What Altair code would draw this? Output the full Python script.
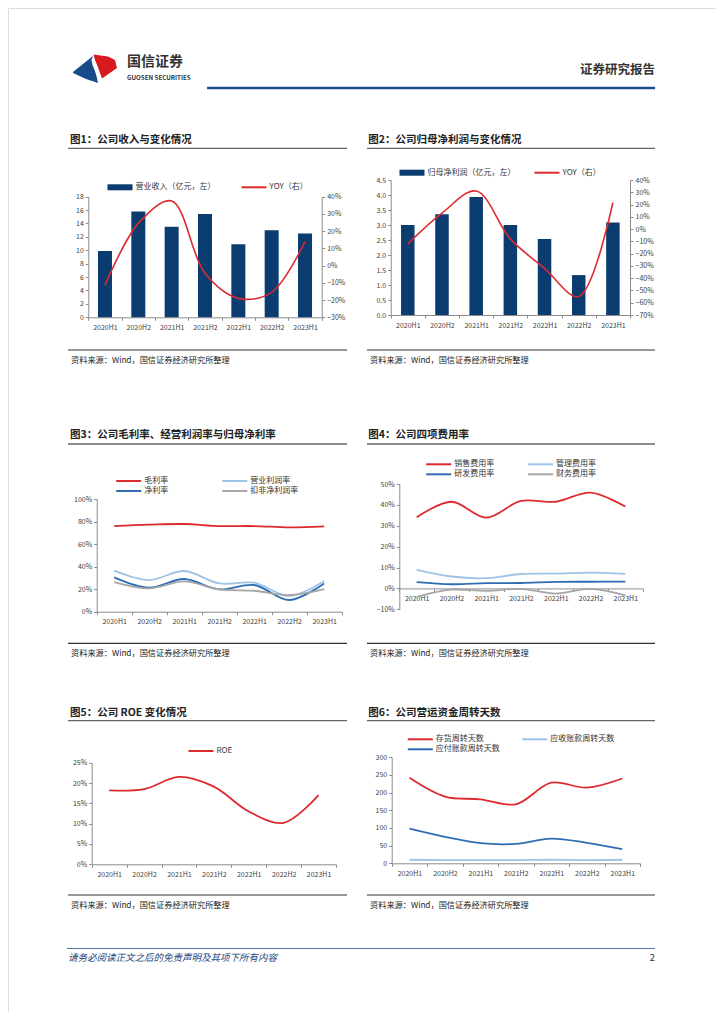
import altair as alt
import pandas as pd

FONT = "Noto Sans CJK SC"
NAVY = "#0b3c6f"
RED = "#dc2a2f"
LBLUE = "#9dc3e6"
BLUE = "#2f6db3"
GRAY = "#a6a6a6"
AXC = "#8c8c8c"
LABC = "#404040"

# ---------------- data ----------------
periods = ["2020H1", "2020H2", "2021H1", "2021H2", "2022H1", "2022H2", "2023H1"]

revenue = [9.9, 15.8, 13.5, 15.4, 10.9, 13.0, 12.5]
revenue_yoy = [-0.113, 0.245, 0.375, -0.045, -0.19, -0.155, 0.14]

net_profit = [3.0, 3.36, 3.93, 3.0, 2.53, 1.33, 3.08]
net_profit_yoy = [-0.12, 0.13, 0.31, -0.08, -0.32, -0.55, 0.217]

margin_names = ["毛利率", "营业利润率", "净利率", "扣非净利润率"]
gross_margin = [0.76, 0.772, 0.778, 0.76, 0.76, 0.748, 0.757]
op_margin = [0.364, 0.281, 0.361, 0.251, 0.257, 0.139, 0.272]
net_margin = [0.305, 0.213, 0.29, 0.198, 0.237, 0.104, 0.251]
deducted_margin = [0.263, 0.207, 0.269, 0.198, 0.186, 0.148, 0.201]

expense_names = ["销售费用率", "管理费用率", "研发费用率", "财务费用率"]
selling_rate = [0.341, 0.415, 0.339, 0.419, 0.415, 0.459, 0.392]
admin_rate = [0.089, 0.057, 0.049, 0.069, 0.071, 0.076, 0.070]
rd_rate = [0.030, 0.020, 0.025, 0.026, 0.031, 0.032, 0.033]
fin_rate = [-0.040, -0.006, -0.012, -0.002, -0.025, -0.002, -0.033]

roe = [0.182, 0.185, 0.215, 0.191, 0.130, 0.102, 0.170]

days_names = ["存货周转天数", "应收账款周转天数", "应付账款周转天数"]
inv_days = [242, 189, 181, 167, 228, 214, 240]
ar_days = [10, 9, 9, 9, 10, 9, 10]
ap_days = [98, 75, 57, 55, 70, 58, 40]

SOURCE = "资料来源：Wind，国信证券经济研究所整理"

one = pd.DataFrame({"k": [0]})

LINE_SYM = "M-5,0L5,0"
BAR_SYM = "M-5,-1.2L5,-1.2L5,1.2L-5,1.2Z"

# whole page drawn as one view; page coords -> view coords
VW, VH = 708, 1004


def px(X):
    return X - 8


def py(Y):
    return Y - 8


# ---------------- helpers ----------------
def text_at(X, Y, s, size, align="left", **kw):
    return alt.Chart(one).mark_text(
        text=s, font=FONT, fontSize=size, align=align, baseline="middle", **kw
    ).encode(x=alt.value(px(X)), y=alt.value(py(Y)))


def hline(X0, X1, Y, color, width):
    return alt.Chart(one).mark_rule(color=color, strokeWidth=width).encode(
        x=alt.value(px(X0)), x2=alt.value(px(X1)), y=alt.value(py(Y))
    )


def frame(title, tx, ty, ux0, ux1, uy, sline, stext):
    return [
        text_at(tx, ty, title, 10.5, fontWeight="bold", color="#222222"),
        hline(ux0, ux1, uy, "#666666", 1.3),
        hline(ux0, ux1, sline, "#333333", 1.2),
        text_at(ux0 + 3, stext, SOURCE, 8.2, color="#222222"),
    ]


def xenc(L, Wd, axis_y=None):
    if axis_y is None:
        ax = None
    else:
        ax = alt.Axis(title=None, labelAngle=0, tickBand="extent", tickSize=3, tickColor=AXC,
                      domainColor=AXC, labelFont=FONT, labelFontSize=7, labelColor=LABC,
                      labelPadding=3, grid=False, orient="bottom", offset=py(axis_y) - VH)
    return alt.X("period:N", sort=periods,
                 scale=alt.Scale(domain=periods, range=[px(L), px(L + Wd)],
                                 paddingInner=0, paddingOuter=0),
                 axis=ax)


def yenc(field, L, T, Wd, Hd, domain, values, fmt=None, orient="left"):
    off = -px(L) if orient == "left" else px(L + Wd) - VW
    d = dict(title=None, values=values, tickSize=3, tickColor=AXC, domainColor=AXC,
             labelFont=FONT, labelFontSize=7, labelColor=LABC, labelPadding=2,
             orient=orient, grid=False, offset=off)
    if fmt:
        d["format"] = fmt
    return alt.Y(field, scale=alt.Scale(domain=domain, range=[py(T + Hd), py(T)], nice=False, zero=False),
                 axis=alt.Axis(**d))


def leg(X, Y, sym, cols=1, colpad=10, sw=2.0):
    return alt.Legend(title=None, orient="none", legendX=px(X), legendY=py(Y) - 4, columns=cols,
                      columnPadding=colpad, rowPadding=2, symbolType=sym, symbolSize=25,
                      symbolStrokeWidth=sw, symbolOffset=8, labelOffset=11.5,
                      labelFont=FONT, labelFontSize=8, labelColor="#333333", padding=0)


def pct_vals(lo, hi):
    return [round(v / 10, 2) for v in range(lo, hi + 1)]


layers = []

# ---------------- header ----------------
LOGO_BLUE = ("M-1,0.159L-0.091,-0.568L-0.159,-0.386L-0.114,-0.159L0,0.114L0.091,0.432"
             "L0.136,0.659L-0.409,0.477L-1,0.205Z")
LOGO_RED = ("M-0.068,-0.636L0.591,-0.545L0.909,-0.386L1,-0.023L0.318,0.455L0.227,0.205"
            "L0.114,-0.114L0,-0.386Z")
layers += [
    alt.Chart(one).mark_point(shape=LOGO_BLUE, size=1936, filled=True, fill="#1a4a8a",
                              strokeWidth=0, opacity=1).encode(x=alt.value(px(95)), y=alt.value(py(68.5))),
    alt.Chart(one).mark_point(shape=LOGO_RED, size=1936, filled=True, fill="#d71920",
                              strokeWidth=0, opacity=1).encode(x=alt.value(px(95)), y=alt.value(py(68.5))),
    text_at(127, 62, "国信证券", 14, fontWeight="bold", color="#333333"),
    text_at(127, 78, "GUOSEN SECURITIES", 6.2, fontWeight="bold", color="#333333"),
    text_at(655, 70, "证券研究报告", 12.5, align="right", fontWeight="bold", color="#333333"),
    hline(207, 655, 88, "#1f4e8c", 2.5),
]

# ---------------- footer ----------------
layers += [
    hline(67, 655, 948.5, "#4f74a8", 1),
    text_at(68, 958, "请务必阅读正文之后的免责声明及其项下所有内容", 9.5,
            fontStyle="italic", color="#23467e"),
    text_at(655, 958, "2", 9.5, align="right", color="#333333"),
]

# ---------------- panel 1 ----------------
L1, T1, W1, H1 = 88.3, 196.7, 233.4, 120.6
df1 = pd.DataFrame({"period": periods, "value": revenue, "yoy": revenue_yoy})
n1a, n1b = "营业收入（亿元，左）", "YOY（右）"
layers += frame("图1：公司收入与变化情况", 70, 140, 68, 347, 148.3, 350, 361)
layers.append(alt.Chart(df1).transform_calculate(s=f"'{n1a}'").mark_bar(size=14).encode(
    x=xenc(L1, W1, T1 + H1),
    y=yenc("value:Q", L1, T1, W1, H1, [0, 18], list(range(0, 19, 2))),
    color=alt.Color("s:N", scale=alt.Scale(domain=[n1a], range=[NAVY]),
                    legend=leg(108, 187.3, BAR_SYM, sw=0)),
))
layers.append(alt.Chart(df1).transform_calculate(s=f"'{n1b}'").mark_line(
    interpolate="catmull-rom", strokeWidth=1.6).encode(
    x=xenc(L1, W1),
    y=yenc("yoy:Q", L1, T1, W1, H1, [-0.3, 0.4], pct_vals(-3, 4), ".0%", "right"),
    color=alt.Color("s:N", scale=alt.Scale(domain=[n1b], range=[RED]),
                    legend=leg(242, 187.3, LINE_SYM)),
))

# ---------------- panel 2 ----------------
L2, T2, W2, H2 = 390.7, 180, 239.3, 135
df2 = pd.DataFrame({"period": periods, "value": net_profit, "yoy": net_profit_yoy})
n2a, n2b = "归母净利润（亿元，左）", "YOY（右）"
layers += frame("图2：公司归母净利润与变化情况", 368.3, 140, 367, 655, 148.3, 350, 361)
layers.append(alt.Chart(df2).transform_calculate(s=f"'{n2a}'").mark_bar(size=13.5).encode(
    x=xenc(L2, W2, T2 + H2),
    y=yenc("value:Q", L2, T2, W2, H2, [0, 4.5], [v / 2 for v in range(0, 10)], ".1f"),
    color=alt.Color("s:N", scale=alt.Scale(domain=[n2a], range=[NAVY]),
                    legend=leg(400, 172.7, BAR_SYM, sw=0)),
))
layers.append(alt.Chart(df2).transform_calculate(s=f"'{n2b}'").mark_line(
    interpolate="catmull-rom", strokeWidth=1.6).encode(
    x=xenc(L2, W2),
    y=yenc("yoy:Q", L2, T2, W2, H2, [-0.7, 0.4], pct_vals(-7, 4), ".0%", "right"),
    color=alt.Color("s:N", scale=alt.Scale(domain=[n2b], range=[RED]),
                    legend=leg(535, 172.7, LINE_SYM)),
))

# ---------------- panel 3 ----------------
L3, T3, W3, H3 = 96.7, 499, 245, 112.7
df3 = pd.DataFrame({"period": periods, "毛利率": gross_margin, "营业利润率": op_margin,
                    "净利率": net_margin, "扣非净利润率": deducted_margin})
layers += frame("图3：公司毛利率、经营利润率与归母净利率", 70, 435, 68, 347, 444, 643.3, 654)
layers.append(alt.Chart(df3).transform_fold(margin_names, as_=["series", "value"]).mark_line(
    interpolate="catmull-rom", strokeWidth=1.8).encode(
    x=xenc(L3, W3, T3 + H3),
    y=yenc("value:Q", L3, T3, W3, H3, [0, 1], pct_vals(0, 10)[::2], ".0%"),
    color=alt.Color("series:N",
                    scale=alt.Scale(domain=["毛利率", "净利率", "营业利润率", "扣非净利润率"],
                                    range=[RED, BLUE, LBLUE, GRAY]),
                    legend=leg(116.7, 481, LINE_SYM, cols=2, colpad=49.1)),
))

# ---------------- panel 4 ----------------
L4, T4, W4, H4 = 399.3, 484, 243.4, 125.3
df4 = pd.DataFrame({"period": periods, "销售费用率": selling_rate, "管理费用率": admin_rate,
                    "研发费用率": rd_rate, "财务费用率": fin_rate})
layers += frame("图4：公司四项费用率", 368.3, 435, 367, 655, 444, 643.3, 654)
layers.append(alt.Chart(df4).transform_fold(expense_names, as_=["series", "value"]).mark_line(
    interpolate="catmull-rom", strokeWidth=1.8).encode(
    x=xenc(L4, W4, T4 + H4 * 5 / 6),
    y=yenc("value:Q", L4, T4, W4, H4, [-0.1, 0.5], pct_vals(-1, 5), ".0%"),
    color=alt.Color("series:N",
                    scale=alt.Scale(domain=["销售费用率", "研发费用率", "管理费用率", "财务费用率"],
                                    range=[RED, BLUE, LBLUE, GRAY]),
                    legend=leg(426.7, 464.3, LINE_SYM, cols=2, colpad=28.8)),
))

# ---------------- panel 5 ----------------
L5, T5, W5, H5 = 91.7, 762.7, 244.3, 101.6
df5 = pd.DataFrame({"period": periods, "ROE": roe})
layers += frame("图5：公司 ROE 变化情况", 70, 712.7, 68, 347, 720.7, 895, 906)
layers.append(alt.Chart(df5).transform_fold(["ROE"], as_=["series", "value"]).mark_line(
    interpolate="catmull-rom", strokeWidth=1.8).encode(
    x=xenc(L5, W5, T5 + H5),
    y=yenc("value:Q", L5, T5, W5, H5, [0, 0.25], [0, 0.05, 0.1, 0.15, 0.2, 0.25], ".0%"),
    color=alt.Color("series:N", scale=alt.Scale(domain=["ROE"], range=[RED]),
                    legend=leg(189, 751, LINE_SYM)),
))

# ---------------- panel 6 ----------------
L6, T6, W6, H6 = 391.7, 757.3, 248.3, 106
df6 = pd.DataFrame({"period": periods, "存货周转天数": inv_days, "应收账款周转天数": ar_days,
                    "应付账款周转天数": ap_days})
layers += frame("图6：公司营运资金周转天数", 368.3, 712.7, 367, 655, 720.7, 895, 906)
layers.append(alt.Chart(df6).transform_fold(days_names, as_=["series", "value"]).mark_line(
    interpolate="catmull-rom", strokeWidth=1.8).encode(
    x=xenc(L6, W6, T6 + H6),
    y=yenc("value:Q", L6, T6, W6, H6, [0, 300], list(range(0, 301, 50))),
    color=alt.Color("series:N",
                    scale=alt.Scale(domain=["存货周转天数", "应付账款周转天数", "应收账款周转天数"],
                                    range=[RED, BLUE, LBLUE]),
                    legend=leg(408.3, 739.3, LINE_SYM, cols=2, colpad=17.5)),
))

chart = alt.layer(*layers).resolve_scale(
    x="independent", y="independent", color="independent"
).properties(
    width=VW, height=VH, padding=0, background="white",
    autosize=alt.AutoSizeParams(type="none"),
).configure_view(strokeWidth=0).configure(font=FONT)

chart.save("out.html", embed_options={"renderer": "svg", "actions": False})
